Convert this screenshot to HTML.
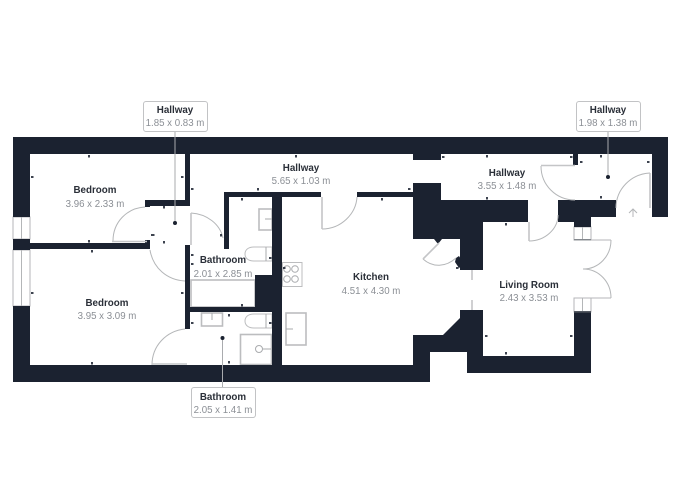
<!DOCTYPE html>
<html><head><meta charset="utf-8"><style>
html,body{margin:0;padding:0;background:#fff}
svg{display:block}
text{font-family:"Liberation Sans",sans-serif;text-anchor:middle}
.n{font-size:9.8px;font-weight:bold;fill:#2a2f38}
.d{font-size:9.7px;fill:#8b8f95}
.w{fill:#1b2230}
.g{fill:none;stroke:#b4b6b8;stroke-width:1}
.f{fill:#fff;stroke:#bcbdbf;stroke-width:1.6}
.t{fill:none;stroke:#c4c5c7;stroke-width:1.6}
.l{stroke:#a9abae;stroke-width:1;fill:none}
.b{fill:#fff;stroke:#c2c3c5;stroke-width:1}
</style></head><body>
<svg width="674" height="500" viewBox="0 0 674 500" xmlns="http://www.w3.org/2000/svg">
<rect width="674" height="500" fill="#fff"/>
<!-- windows -->
<g class="g"><rect x="13" y="217" width="17" height="22"/><rect x="13" y="250" width="17" height="56"/><path d="M21.500 217V239M21.500 250V306"/>
<rect x="574" y="227" width="17" height="13"/><rect x="574" y="298" width="17" height="14"/><path d="M582.500 227V240M582.500 298V312"/></g>
<!-- fixtures -->
<rect class="f" x="191" y="280" width="64" height="27"/>
<rect class="f" x="259" y="209" width="13" height="21"/><path class="l" d="M265 219H272"/>
<path class="f" style="stroke-width:1" d="M272 247H254C248 247 245 250 245 254C245 258 248 261 254 261H272Z"/><path class="l" d="M266 247V261"/>
<rect class="f" x="282.500" y="262.500" width="19.500" height="24" style="stroke-width:1"/>
<g class="l"><circle cx="295" cy="269" r="3.300"/><circle cx="295" cy="279" r="3.300"/><circle cx="287" cy="269" r="3.300"/><circle cx="287" cy="279" r="3.300"/></g>
<rect class="f" x="286" y="313" width="20" height="32"/><path class="l" d="M286 329H293"/>
<rect class="f" x="201.500" y="313" width="21" height="13"/><path class="l" d="M212 313V320"/>
<path class="f" style="stroke-width:1" d="M272 314H254C248 314 245 317 245 321C245 325 248 328 254 328H272Z"/><path class="l" d="M266 314V328"/>
<rect class="f" x="240.500" y="334.500" width="31" height="30"/><circle class="l" cx="259" cy="349" r="3.500"/><path class="l" d="M262.500 349H271"/>
<!-- walls -->
<path class="w" d="M13 137H668V217H652V154H578V165H573V154H441V160H413V154H30V217H13Z"/>
<path class="w" d="M13 239H30V243H145V240H150V249H30V250H13Z"/>
<path class="w" d="M13 306H30V365H272V197H229V249H224V192H321V197H282V365H413V335H443L460 318V310H483V356H574V312H591V373H467V352H430V382H13Z"/>
<path class="w" d="M185 154H190V206H150V207H145V200H185Z"/>
<path class="w" d="M185 245H190V307H255V275H272V312H190V329H185Z"/>
<path class="w" d="M357 192H413V183H441V200H528V222H483V270H460V239H413V197H357Z"/>
<path class="w" d="M558 200H616V217H591V227H574V222H558Z"/>
<path class="w" d="M652 154H668V217H652Z"/>
<path class="w" d="M434 239H442L438 244ZM456 258L459 256L464 264L459 268L455 262Z"/>
<rect x="574" y="239" width="17" height="1.600" fill="#555a63"/>
<rect x="574" y="311" width="17" height="1.600" fill="#555a63"/>
<!-- doors -->
<g class="g">
<path d="M113 241C113 222 127 208 145 207"/>
<path d="M150 250C153 268 167 280 185 281"/>
<path d="M191 213C207 214 220 224 223 238"/>
<path d="M152 365C152 346 166 331 185 329"/>
<path d="M322 229C341 229 356 214 357 197"/>
<path d="M423 259C433 268 446 267 456 258"/>
<path d="M541 166C541 185 556 200 575 200"/>
<path d="M616 208C616 189 631 174 650 173"/>
<path d="M529 241C545 241 558 229 558 215"/>
<path d="M611 240C611 256 599 269 583 269C599 269 611 282 611 298"/>
<path d="M574 240H611M574 298H611"/>
<path d="M629 213L633 209L637 213M633 209V217"/>
</g>
<g class="t">
<path d="M112 241.500H147"/><path d="M191 213V245"/><path d="M152 364H187"/>
<path d="M322 197V229"/><path d="M439 243L423 259"/>
<path d="M541 165.500H575"/><path d="M650 173V208"/><path d="M529 222V241"/>
<path d="M472 270V280M472 300V310"/>
</g>
<!-- ticks -->
<g fill="#1b2230" fill-opacity="0.85">
<rect x="88" y="155" width="2" height="2.500"/><rect x="31" y="176" width="2.500" height="2"/><rect x="181" y="176" width="2.500" height="2"/><rect x="191" y="188" width="2.500" height="2"/>
<rect x="163" y="206" width="2" height="2.500"/><rect x="151" y="234" width="3.500" height="2"/><rect x="163" y="241" width="2" height="2.500"/><rect x="220" y="234" width="2" height="2.500"/><rect x="88" y="240" width="2" height="2.500"/><rect x="91" y="250" width="2" height="2.500"/>
<rect x="31" y="292" width="2.500" height="2"/><rect x="181" y="292" width="2.500" height="2"/><rect x="191" y="263" width="2.500" height="2"/><rect x="91" y="362" width="2" height="2.500"/><rect x="191" y="322" width="2.500" height="2"/><rect x="228" y="314" width="2" height="2.500"/><rect x="228" y="361" width="2" height="2.500"/>
<rect x="191" y="254" width="2.500" height="2"/><rect x="241" y="198" width="2" height="2.500"/><rect x="257" y="188" width="2" height="2.500"/><rect x="269" y="257" width="2.500" height="2"/><rect x="283" y="267" width="2.500" height="2"/><rect x="269" y="322" width="2.500" height="2"/><rect x="241" y="304" width="2" height="2.500"/>
<rect x="442" y="156" width="2.500" height="2"/><rect x="486" y="155" width="2" height="2.500"/><rect x="408" y="188" width="2.500" height="2"/><rect x="381" y="198" width="2" height="2.500"/><rect x="486" y="197" width="2" height="2.500"/><rect x="505" y="223" width="2" height="2.500"/>
<rect x="570" y="156" width="2.500" height="2"/><rect x="580" y="161" width="2.500" height="2"/><rect x="600" y="155" width="2" height="2.500"/><rect x="647" y="161" width="2.500" height="2"/><rect x="600" y="196" width="2" height="2.500"/>
<rect x="456" y="267" width="2.500" height="2"/><rect x="485" y="335" width="2.500" height="2"/><rect x="570" y="335" width="2.500" height="2"/><rect x="505" y="352" width="2" height="2.500"/>
<rect x="295" y="155" width="2" height="2.500"/>
</g>
<!-- callouts -->
<g class="l"><path d="M175 131V222"/><path d="M608 131V177"/><path d="M222.500 338V387"/></g>
<g fill="#1b2230"><circle cx="175" cy="223" r="2"/><circle cx="608" cy="177" r="2"/><circle cx="222.500" cy="338" r="2"/></g>
<rect class="b" x="143.500" y="101.500" width="64" height="30" rx="2.500"/>
<rect class="b" x="576.500" y="101.500" width="64" height="30" rx="2.500"/>
<rect class="b" x="191.500" y="387.500" width="64" height="30" rx="2.500"/>
<!-- labels -->
<text class="n" x="175" y="113">Hallway</text><text class="d" x="175" y="126">1.85 x 0.83 m</text>
<text class="n" x="608" y="113">Hallway</text><text class="d" x="608" y="126">1.98 x 1.38 m</text>
<text class="n" x="223" y="400">Bathroom</text><text class="d" x="223" y="413">2.05 x 1.41 m</text>
<text class="n" x="95" y="193">Bedroom</text><text class="d" x="95" y="207">3.96 x 2.33 m</text>
<text class="n" x="107" y="306">Bedroom</text><text class="d" x="107" y="319">3.95 x 3.09 m</text>
<text class="n" x="223" y="263">Bathroom</text><text class="d" x="223" y="277">2.01 x 2.85 m</text>
<text class="n" x="301" y="171">Hallway</text><text class="d" x="301" y="184">5.65 x 1.03 m</text>
<text class="n" x="371" y="280">Kitchen</text><text class="d" x="371" y="294">4.51 x 4.30 m</text>
<text class="n" x="507" y="176">Hallway</text><text class="d" x="507" y="189">3.55 x 1.48 m</text>
<text class="n" x="529" y="288">Living Room</text><text class="d" x="529" y="301">2.43 x 3.53 m</text>
</svg>
</body></html>
